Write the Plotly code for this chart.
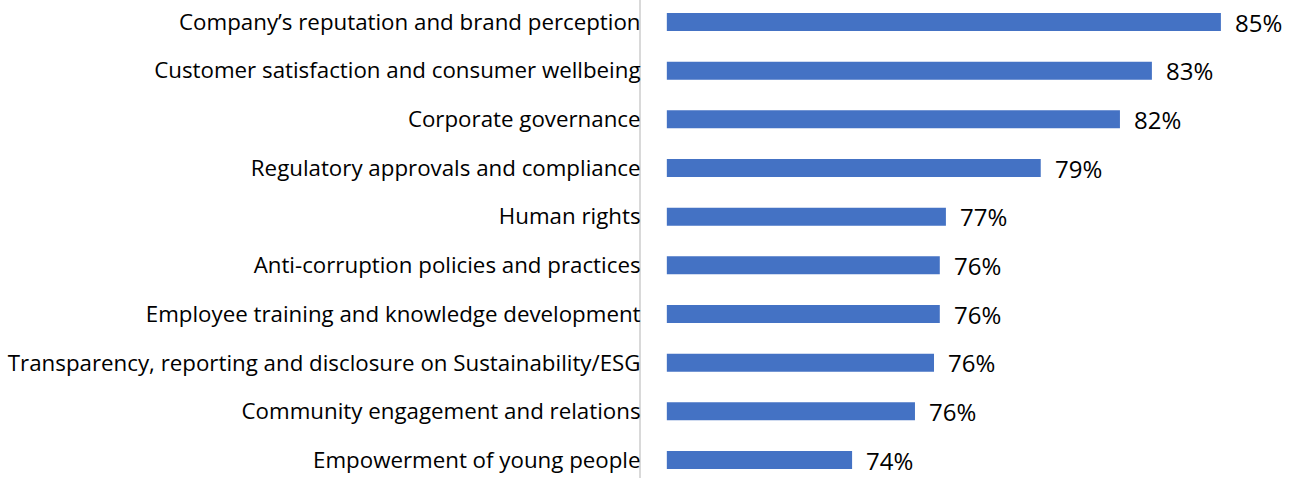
import plotly.graph_objects as go

categories = [
    "Company’s reputation and brand perception",
    "Customer satisfaction and consumer wellbeing",
    "Corporate governance",
    "Regulatory approvals and compliance",
    "Human rights",
    "Anti-corruption policies and practices",
    "Employee training and knowledge development",
    "Transparency, reporting and disclosure on Sustainability/ESG",
    "Community engagement and relations",
    "Empowerment of young people",
]
# bar values (%)
values = [85.0, 82.97, 82.03, 79.7, 76.91, 76.73, 76.73, 76.56, 76.0, 74.15]
value_labels = ["85%", "83%", "82%", "79%", "77%", "76%", "76%", "76%", "76%", "74%"]

bar_base = 68.7
x_min, x_max = 67.94, 87.18

fig = go.Figure()
fig.add_trace(go.Bar(
    y=categories,
    x=[v - bar_base for v in values],
    base=bar_base,
    orientation="h",
    marker=dict(color="#4472C4", line=dict(width=0)),
    width=0.37,
    hoverinfo="skip",
))

for cat, v, lab in zip(categories, values, value_labels):
    fig.add_annotation(
        x=v, y=cat, text=lab, showarrow=False,
        xanchor="left", yanchor="middle", xshift=12,
        font=dict(family="Open Sans", size=24, color="#000000"),
    )

fig.update_layout(
    width=1295, height=478,
    margin=dict(l=641, r=0, t=0, b=0),
    paper_bgcolor="white", plot_bgcolor="white",
    showlegend=False,
    font=dict(family="Open Sans", size=22.3, color="#000000"),
    xaxis=dict(range=[x_min, x_max], visible=False, showgrid=False, zeroline=False),
    yaxis=dict(
        type="category",
        categoryorder="array", categoryarray=categories,
        range=[9.369, -0.452],
        showline=True, linecolor="#d9d9d9", linewidth=2,
        ticks="", ticklen=0, showgrid=False, zeroline=False,
        ticklabelstandoff=-6,
        tickfont=dict(family="Open Sans", size=22.3, color="#000000"),
    ),
)

fig.write_html("out.html")
